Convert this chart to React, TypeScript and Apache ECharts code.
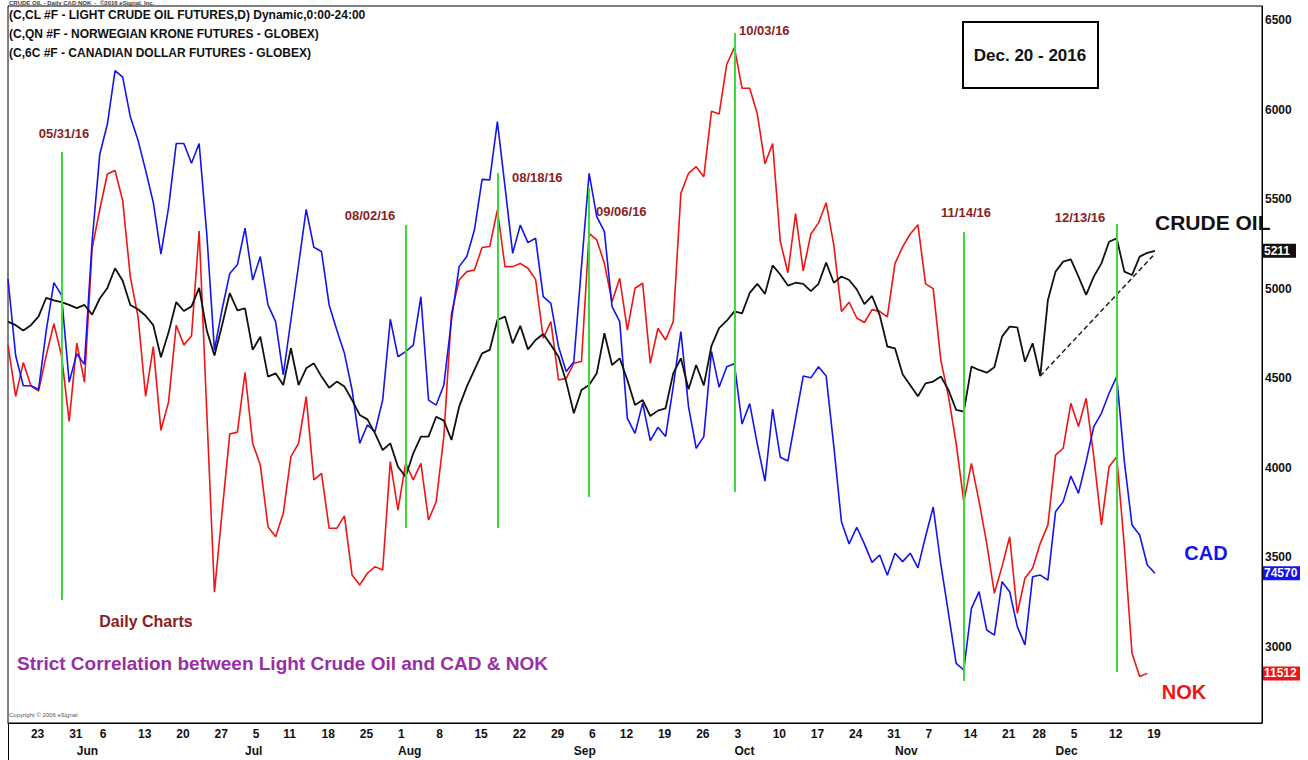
import React, { useEffect, useRef } from "react";
import * as echarts from "echarts";

// ---------- data ----------
const START_DATE = "2016-05-18";
const CATEGORY_COUNT = 165;
const HOLIDAYS = ["2016-05-30", "2016-07-04", "2016-09-05", "2016-11-24", "2016-12-26"];

const TICK_DATES = [
  "2016-05-23", "2016-05-31", "2016-06-06", "2016-06-13", "2016-06-20", "2016-06-27",
  "2016-07-05", "2016-07-11", "2016-07-18", "2016-07-25", "2016-08-01", "2016-08-08",
  "2016-08-15", "2016-08-22", "2016-08-29", "2016-09-06", "2016-09-12", "2016-09-19",
  "2016-09-26", "2016-10-03", "2016-10-10", "2016-10-17", "2016-10-24", "2016-10-31",
  "2016-11-07", "2016-11-14", "2016-11-21", "2016-11-28", "2016-12-05", "2016-12-12",
  "2016-12-19",
];
const MONTH_DATES = ["2016-06-01", "2016-07-01", "2016-08-01", "2016-09-01", "2016-10-03", "2016-11-01", "2016-12-01"];
const MONTH_NAMES = ["Jun", "Jul", "Aug", "Sep", "Oct", "Nov", "Dec"];

const Y_LABELS = [3000, 3500, 4000, 4500, 5000, 5500, 6000, 6500];

// Light crude oil (x100), May 18 - Dec 20, 2016
const CRUDE = [
  4816, 4796, 4766, 4796, 4845, 4949, 4935, 4925, 4909, 4891, 4909, 4855, 4945, 5004, 5114, 5044,
  4909, 4885, 4849, 4796, 4617, 4756, 4925, 4875, 4901, 5004, 4766, 4627, 4796, 4975, 4879, 4890,
  4658, 4732, 4509, 4527, 4462, 4667, 4462, 4555, 4583, 4509, 4447, 4481, 4453, 4378, 4295, 4270,
  4192, 4099, 4136, 4006, 3950, 4081, 4174, 4174, 4285, 4263, 4155, 4341, 4453, 4546, 4639, 4658,
  4825, 4844, 4695, 4792, 4661, 4713, 4747, 4686, 4620, 4481, 4304, 4434, 4462, 4527, 4751, 4574,
  4611, 4490, 4351, 4378, 4289, 4319, 4332, 4527, 4611, 4438, 4574, 4460, 4680, 4780, 4821, 4873,
  4862, 4976, 5027, 4971, 5130, 5079, 5017, 5033, 5027, 4986, 5027, 5145, 5033, 5068, 5048, 4996,
  4914, 4959, 4852, 4677, 4667, 4522, 4461, 4399, 4471, 4481, 4510, 4434, 4323, 4313, 4565, 4546,
  4531, 4561, 4732, 4788, 4784, 4592, 4695, 4512, 4937, 5095, 5151, 5164, 5067, 4965, 5067, 5141,
  5262, 5281, 5095, 5076, 5179, 5200, 5211,
];

// Canadian dollar futures, plotted on the chart's scale
const CAD = [
  5054, 4627, 4458, 4458, 4438, 4766, 5034, 4964, 4478, 4637, 4577, 5263, 5750, 5919, 6217, 6181,
  5959, 5829, 5660, 5481, 5193, 5452, 5810, 5810, 5700, 5810, 5303, 4657, 4885, 5084, 5133, 5338,
  5048, 5179, 4909, 4816, 4518, 4825, 5132, 5443, 5231, 5207, 4909, 4769, 4639, 4434, 4136, 4239,
  4202, 4378, 4829, 4620, 4648, 4685, 4955, 4378, 4350, 4462, 4825, 5123, 5179, 5327, 5610, 5607,
  5932, 5570, 5197, 5355, 5257, 5281, 4955, 4918, 4676, 4537, 4592, 5123, 5644, 5402, 5318, 4900,
  4816, 4276, 4192, 4360, 4151, 4226, 4174, 4453, 4760, 4341, 4109, 4174, 4650, 4450, 4564, 4580,
  4244, 4358, 4131, 3925, 4327, 4059, 4038, 4275, 4512, 4502, 4564, 4512, 4121, 3698, 3575, 3668,
  3575, 3472, 3513, 3400, 3523, 3476, 3523, 3441, 3616, 3781, 3460, 3187, 2908, 2871, 3215, 3308,
  3094, 3066, 3364, 3308, 3113, 3011, 3392, 3401, 3373, 3755, 3811, 3954, 3857, 4034, 4230, 4304,
  4416, 4509, 4034, 3680, 3625, 3457, 3411,
];

// Norwegian krone futures, plotted on the chart's scale
const NOK = [
  4686, 4398, 4587, 4458, 4428, 4627, 4805, 4627, 4259, 4696, 4478, 5223, 5442, 5640, 5660, 5491,
  5064, 4845, 4398, 4676, 4209, 4368, 4796, 4686, 4736, 5322, 4309, 3305, 3752, 4189, 4199, 4532,
  4136, 4015, 3671, 3615, 3746, 4062, 4136, 4397, 3932, 3969, 3662, 3662, 3731, 3401, 3346, 3411,
  3448, 3429, 4034, 3764, 4025, 3932, 4025, 3708, 3811, 4174, 4862, 5048, 5095, 5104, 5230, 5235,
  5439, 5123, 5123, 5141, 5114, 5052, 4723, 4816, 4490, 4499, 4583, 4593, 5309, 5272, 5141, 4927,
  5058, 4769, 5002, 5030, 4583, 4779, 4713, 4816, 5532, 5644, 5681, 5625, 5990, 5975, 6253, 6346,
  6119, 6119, 5975, 5697, 5810, 5264, 5089, 5419, 5099, 5305, 5367, 5480, 5243, 4873, 4924, 4836,
  4811, 4883, 4873, 4842, 5140, 5233, 5305, 5357, 5027, 5000, 4600, 4397, 4136, 3811, 4025, 3811,
  3578, 3299, 3448, 3615, 3187, 3383, 3439, 3578, 3681, 4071, 4109, 4360, 4230, 4388, 4062, 3681,
  4006, 4062, 3560, 2964, 2834, 2852, null,
];

const LAST_LABELS = ["5211", "74570", "11512"];

const GREEN_DATES = ["2016-05-27", "2016-08-02", "2016-08-18", "2016-09-06", "2016-10-03", "2016-11-14", "2016-12-13"];
const GREEN_TOP = [5763, 5355, 5646, 5562, 6427, 5316, 5361];
const GREEN_BOTTOM = [3262, 3664, 3664, 3837, 3865, 2809, 2860];
const GREEN_LABELS = ["05/31/16", "08/02/16", "08/18/16", "09/06/16", "10/03/16", "11/14/16", "12/13/16"];

const TREND_DATES = ["2016-11-29", "2016-12-20"];
const TREND_VALUES = [4512, 5195];

const HEADER_LINES = [
  "(C,CL #F - LIGHT CRUDE OIL FUTURES,D) Dynamic,0:00-24:00",
  "(C,QN #F - NORWEGIAN KRONE FUTURES - GLOBEX)",
  "(C,6C #F - CANADIAN DOLLAR FUTURES - GLOBEX)",
];

// ---------- helpers ----------
function tradingDays(start: string, count: number): string[] {
  const out: string[] = [];
  const d = new Date(start + "T00:00:00Z");
  while (out.length < count) {
    const dow = d.getUTCDay();
    const s = d.toISOString().slice(0, 10);
    if (dow !== 0 && dow !== 6 && !HOLIDAYS.includes(s)) out.push(s);
    d.setUTCDate(d.getUTCDate() + 1);
  }
  return out;
}

const FONT = '"Liberation Sans Narrow", "Arial Narrow", "Liberation Sans", Arial, sans-serif';
const FONT_WIDE = '"Liberation Sans", Arial, sans-serif';
const BLACK = "#111111";
const BLUE = "#1414f0";
const RED = "#f01414";
const GREEN = "#3fd83f";
const DARKRED = "#8a1e1e";

export default function App() {
  const ref = useRef<HTMLDivElement>(null);

  useEffect(() => {
    if (!ref.current) return;
    const chart = echarts.init(ref.current, undefined, { renderer: "svg" });
    const categories = tradingDays(START_DATE, CATEGORY_COUNT);
    const lastDates = [
      categories[CRUDE.length - 1],
      categories[CAD.length - 1],
      categories[NOK.filter((v) => v !== null).length - 1],
    ];

    const trendData: (number | null)[] = categories.map((c) => {
      const i = TREND_DATES.indexOf(c);
      return i >= 0 ? TREND_VALUES[i] : null;
    });

    const greenLines = GREEN_DATES.map((d, i) => [
      { coord: [d, GREEN_TOP[i]] },
      { coord: [d, GREEN_BOTTOM[i]] },
    ]);

    const labelPos: [number, number, string][] = [
      [64, 133, "center"],
      [370, 215, "center"],
      [512, 177, "left"],
      [596, 211, "left"],
      [739, 30, "left"],
      [966, 212, "center"],
      [1080, 217, "center"],
    ];

    const graphics: any[] = [
      {
        type: "text",
        x: 9,
        y: 0,
        style: { text: "CRUDE OIL - Daily CAD NOK  -  ©2016 eSignal, Inc.", font: `bold 6px ${FONT}`, fill: "#444" },
      },
      ...HEADER_LINES.map((t, i) => ({
        type: "text",
        x: 9,
        y: 15 + i * 19,
        style: { text: t, font: `bold 12px ${FONT}`, fill: "#111", textVerticalAlign: "middle" },
      })),
      {
        type: "rect",
        shape: { x: 963, y: 22, width: 135, height: 66 },
        style: { fill: "#fff", stroke: "#000", lineWidth: 2 },
      },
      {
        type: "text",
        x: 1030,
        y: 55,
        style: { text: "Dec. 20 - 2016", font: `bold 17px ${FONT}`, fill: "#111", textAlign: "center", textVerticalAlign: "middle" },
      },
      {
        type: "text",
        x: 1155,
        y: 222,
        style: { text: "CRUDE OIL", font: `bold 21px ${FONT_WIDE}`, fill: "#111", textVerticalAlign: "middle" },
      },
      {
        type: "text",
        x: 1206,
        y: 553,
        style: { text: "CAD", font: `bold 20px ${FONT_WIDE}`, fill: BLUE, textAlign: "center", textVerticalAlign: "middle" },
      },
      {
        type: "text",
        x: 1184,
        y: 692,
        style: { text: "NOK", font: `bold 20px ${FONT_WIDE}`, fill: RED, textAlign: "center", textVerticalAlign: "middle" },
      },
      {
        type: "text",
        x: 146,
        y: 621,
        style: { text: "Daily Charts", font: `bold 16px ${FONT}`, fill: DARKRED, textAlign: "center", textVerticalAlign: "middle" },
      },
      {
        type: "text",
        x: 17,
        y: 663,
        style: {
          text: "Strict Correlation between Light Crude Oil and CAD & NOK",
          font: `bold 19px ${FONT}`,
          fill: "#9a2ea6",
          textVerticalAlign: "middle",
        },
      },
      {
        type: "text",
        x: 9,
        y: 715,
        style: { text: "Copyright © 2006 eSignal", font: `6px ${FONT}`, fill: "#555", textVerticalAlign: "middle" },
      },
      {
        type: "line",
        shape: { x1: 8.5, y1: 723, x2: 8.5, y2: 760 },
        style: { stroke: "#000", lineWidth: 1 },
      },
      ...GREEN_LABELS.map((t, i) => ({
        type: "text",
        x: labelPos[i][0],
        y: labelPos[i][1],
        style: {
          text: t,
          font: `bold 13px ${FONT}`,
          fill: DARKRED,
          textAlign: labelPos[i][2],
          textVerticalAlign: "middle",
        },
      })),
    ];

    const option: any = {
      animation: false,
      backgroundColor: "#ffffff",
      grid: {
        left: 8,
        right: 46,
        top: 6,
        bottom: 37,
        show: true,
        borderColor: "#000",
        borderWidth: 1,
        backgroundColor: "transparent",
      },
      xAxis: [
        {
          type: "category",
          data: categories,
          boundaryGap: false,
          axisLine: { show: true, lineStyle: { color: "#000", width: 1 } },
          axisTick: { show: false },
          splitLine: { show: false },
          axisLabel: {
            interval: (_i: number, v: string) => TICK_DATES.includes(v),
            formatter: (v: string) => String(Number(v.slice(8))),
            align: "left",
            margin: 5,
            color: "#111",
            fontSize: 12,
            fontWeight: "bold",
            fontFamily: FONT,
          },
        },
        {
          type: "category",
          data: categories,
          boundaryGap: false,
          position: "bottom",
          axisLine: { show: false },
          axisTick: { show: false },
          splitLine: { show: false },
          axisLabel: {
            interval: (_i: number, v: string) => MONTH_DATES.includes(v),
            formatter: (v: string) => MONTH_NAMES[MONTH_DATES.indexOf(v)] ?? "",
            align: "left",
            margin: 22,
            color: "#111",
            fontSize: 12,
            fontWeight: "bold",
            fontFamily: FONT,
          },
        },
      ],
      yAxis: {
        type: "value",
        position: "right",
        min: 2575,
        max: 6578,
        axisLine: { show: true, lineStyle: { color: "#000" } },
        axisTick: { show: false },
        splitLine: { show: false },
        axisLabel: {
          customValues: Y_LABELS,
          formatter: (v: number) => String(v),
          margin: 3,
          color: "#111",
          fontSize: 12,
          fontWeight: "bold",
          fontFamily: FONT,
        },
      },
      series: [
        {
          name: "NOK",
          type: "line",
          data: NOK,
          symbol: "none",
          lineStyle: { color: RED, width: 1.6 },
          z: 3,
        },
        {
          name: "CAD",
          type: "line",
          data: CAD,
          symbol: "none",
          lineStyle: { color: BLUE, width: 1.6 },
          z: 4,
        },
        {
          name: "Crude",
          type: "line",
          data: CRUDE,
          symbol: "none",
          lineStyle: { color: BLACK, width: 1.8 },
          z: 5,
          markLine: {
            silent: true,
            symbol: "none",
            label: { show: false },
            lineStyle: { color: GREEN, width: 2, type: "solid" },
            data: greenLines,
            z: 6,
          },
        },
        {
          name: "Trend",
          type: "line",
          data: trendData,
          connectNulls: true,
          symbol: "none",
          lineStyle: { color: "#222", width: 1.5, type: [5, 3] },
          z: 5,
        },
      ],
      graphic: graphics,
    };

    chart.setOption(option);

    const tagColors = ["#111111", BLUE, RED];
    const tagWidths = [33, 37, 37];
    const lastValues = [CRUDE[CRUDE.length - 1], CAD[CAD.length - 1], NOK.filter((v) => v !== null).slice(-1)[0] as number];
    const tags: any[] = [];
    lastValues.forEach((v, i) => {
      const p = chart.convertToPixel({ seriesIndex: i === 0 ? 2 : i === 1 ? 1 : 0 }, [lastDates[i], v]) as number[];
      const y = p[1];
      tags.push({
        type: "rect",
        shape: { x: 1263, y: y - 7, width: tagWidths[i], height: 14 },
        style: { fill: tagColors[i] },
      });
      tags.push({
        type: "text",
        x: 1264,
        y: y,
        style: {
          text: LAST_LABELS[i],
          font: `bold 12px ${FONT}`,
          fill: "#fff",
          textVerticalAlign: "middle",
        },
      });
    });
    chart.setOption({ graphic: [...graphics, ...tags] });

    return () => chart.dispose();
  }, []);

  return (
    <div
      ref={ref}
      style={{ position: "fixed", left: 0, top: 0, width: 1308, height: 760, background: "#fff" }}
    />
  );
}
